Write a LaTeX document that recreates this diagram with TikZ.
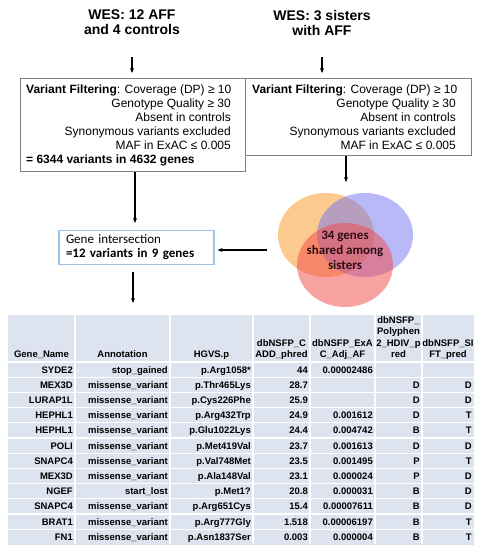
\documentclass[tikz,border=0pt]{standalone}
\usepackage{fontspec}
\setmainfont{Liberation Sans}
\newfontfamily\calfont{Carlito}
\usetikzlibrary{arrows.meta,calc,shapes.geometric}
\definecolor{cellbg}{RGB}{221,227,239}
\definecolor{boxgray}{RGB}{128,128,128}
\definecolor{boxblue}{RGB}{157,195,230}
\definecolor{vorange}{RGB}{249,150,30}
\definecolor{vblue}{RGB}{115,115,241}
\definecolor{vred}{RGB}{243,70,70}
\definecolor{venntext}{RGB}{45,12,20}
\begin{document}
\begin{tikzpicture}[x=1pt,y=-1pt,
  arr/.style={-{Stealth[length=5pt,width=4pt]}, line width=1.1pt},
  titletext/.style={align=center, inner sep=0pt, font=\fontsize{14}{15}\selectfont\bfseries},
  filterbox/.style={draw=boxgray, line width=1pt, inner sep=0pt, anchor=north west},
  ltxt/.style={anchor=base west, inner sep=0pt, font=\fontsize{12}{13}\selectfont},
  rtxt/.style={anchor=base east, inner sep=0pt, font=\fontsize{12}{13}\selectfont},
  vennset/.style={ellipse, minimum width=96pt, minimum height=84pt, inner sep=0pt, fill opacity=0.5},
  hdr/.style={anchor=south, align=center, inner sep=0pt, text depth=2.5pt, font=\fontsize{9.5}{11.3}\selectfont\bfseries},
  cell/.style={anchor=base east, inner sep=0pt, font=\fontsize{9.5}{11}\selectfont\bfseries},
  sep/.style={white, line width=1.2pt}
]
\useasboundingbox (0,0) rectangle (480,550);

% titles
\node[titletext] (t1) at (132,22.5) {WES: 12 AFF\\and 4 controls};
\node[titletext] (t2) at (322,22.5) {WES: 3 sisters\\with AFF};

% filtering boxes
\node[filterbox, minimum width=225pt, minimum height=93pt] (lbox) at (20,78) {};
\node[filterbox, minimum width=226pt, minimum height=77pt] (rbox) at (245,78) {};

\node[ltxt] (lb1) at (26,93.3) {\textbf{Variant Filtering}: Coverage (DP) ≥ 10};
\node[rtxt] (lb2) at (231,107.3) {Genotype Quality ≥ 30};
\node[rtxt] (lb3) at (231,121.3) {Absent in controls};
\node[rtxt] (lb4) at (231,135.3) {Synonymous variants excluded};
\node[rtxt] (lb5) at (231,149.3) {MAF in ExAC ≤ 0.005};
\node[ltxt] (lb6) at (26,163.3) {\textbf{= 6344 variants in 4632 genes}};

\node[ltxt] (rb1) at (252,93.3) {\textbf{Variant Filtering}: Coverage (DP) ≥ 10};
\node[rtxt] (rb2) at (456,107.3) {Genotype Quality ≥ 30};
\node[rtxt] (rb3) at (456,121.3) {Absent in controls};
\node[rtxt] (rb4) at (456,135.3) {Synonymous variants excluded};
\node[rtxt] (rb5) at (456,149.3) {MAF in ExAC ≤ 0.005};

% venn
\node[vennset, fill=vorange] (vo) at (326,235) {};
\node[vennset, fill=vblue] (vb) at (365,235) {};
\node[vennset, fill=vred] (vr) at (345,265) {};
\node[align=center, inner sep=0pt, text=venntext,
      font=\calfont\fontsize{13}{15}\selectfont\bfseries] (vtxt) at (345,250)
      {34 genes\\shared among\\sisters};

% gene intersection box
\node[draw=boxblue, line width=1.2pt, minimum width=155pt, minimum height=34pt,
      text width=141pt, align=left, inner xsep=7pt, inner ysep=0pt,
      font=\calfont\fontsize{13}{14}\selectfont] (gbox) at (136.5,247.5)
      {Gene intersection\\\textbf{=12 variants in 9 genes}};

% table
\node[fill=cellbg, minimum width=466pt, minimum height=229.4pt, inner sep=0pt,
      anchor=north west] (tbl) at (8,315) {};
\foreach \xx in {75,170,253,310,375,422}
  \draw[sep] (\xx,315) -- (\xx,544.4);
\foreach \k in {0,...,11}
  \draw[sep] (8,362+15.2*\k) -- (474,362+15.2*\k);

\node[hdr] (h1) at (41.5,360) {Gene\_Name};
\node[hdr] (h2) at (122.5,360) {Annotation};
\node[hdr] (h3) at (211.5,360) {HGVS.p};
\node[hdr] (h4) at (281.5,360) {dbNSFP\_C\\ADD\_phred};
\node[hdr] (h5) at (342.5,360) {dbNSFP\_ExA\\C\_Adj\_AF};
\node[hdr] (h6) at (398.5,360) {dbNSFP\_\\Polyphen\\2\_HDIV\_p\\red};
\node[hdr] (h7) at (448,360) {dbNSFP\_SI\\FT\_pred};

\foreach \g/\a/\h/\c/\e/\p/\s [count=\i from 0] in {
  SYDE2/stop\_gained/p.Arg1058*/44/0.00002486//,
  MEX3D/missense\_variant/p.Thr465Lys/28.7//D/D,
  LURAP1L/missense\_variant/p.Cys226Phe/25.9//D/D,
  HEPHL1/missense\_variant/p.Arg432Trp/24.9/0.001612/D/T,
  HEPHL1/missense\_variant/p.Glu1022Lys/24.4/0.004742/B/T,
  POLI/missense\_variant/p.Met419Val/23.7/0.001613/D/D,
  SNAPC4/missense\_variant/p.Val748Met/23.5/0.001495/P/T,
  MEX3D/missense\_variant/p.Ala148Val/23.1/0.000024/P/D,
  NGEF/start\_lost/p.Met1?/20.8/0.000031/B/D,
  SNAPC4/missense\_variant/p.Arg651Cys/15.4/0.00007611/B/D,
  BRAT1/missense\_variant/p.Arg777Gly/1.518/0.00006197/B/T,
  FN1/missense\_variant/p.Asn1837Ser/0.003/0.000004/B/T}{
  \pgfmathsetmacro{\yy}{362+7.6+15.2*\i+3.4}
  \node[cell] (g\i) at (73,\yy) {\g};
  \node[cell] (a\i) at (168,\yy) {\a};
  \node[cell] (p\i) at (251,\yy) {\h};
  \node[cell] (c\i) at (308,\yy) {\c};
  \node[cell] (e\i) at (373,\yy) {\e};
  \node[cell] (y\i) at (420,\yy) {\p};
  \node[cell] (s\i) at (472,\yy) {\s};
}

% connectors
\coordinate (a1s) at (132,57);
\coordinate (a2s) at (322,57);
\coordinate (venntop) at (346,193);
\coordinate (vl) at (267,250);
\coordinate (g2) at (133,272);
\draw[arr, shorten >=5pt] (a1s) -- (a1s |- lbox.north);
\draw[arr, shorten >=5pt] (a2s) -- (a2s |- rbox.north);
\draw[arr, shorten >=7pt] (lbox.south -| 135,0) -- (135,0 |- gbox.north);
\draw[arr, shorten >=11pt] (rbox.south -| venntop) -- (venntop);
\draw[arr, shorten >=3pt] (vl) -- (vl -| gbox.east);
\draw[arr, shorten >=12pt] (g2) -- (g2 |- tbl.north);
\end{tikzpicture}
\end{document}
